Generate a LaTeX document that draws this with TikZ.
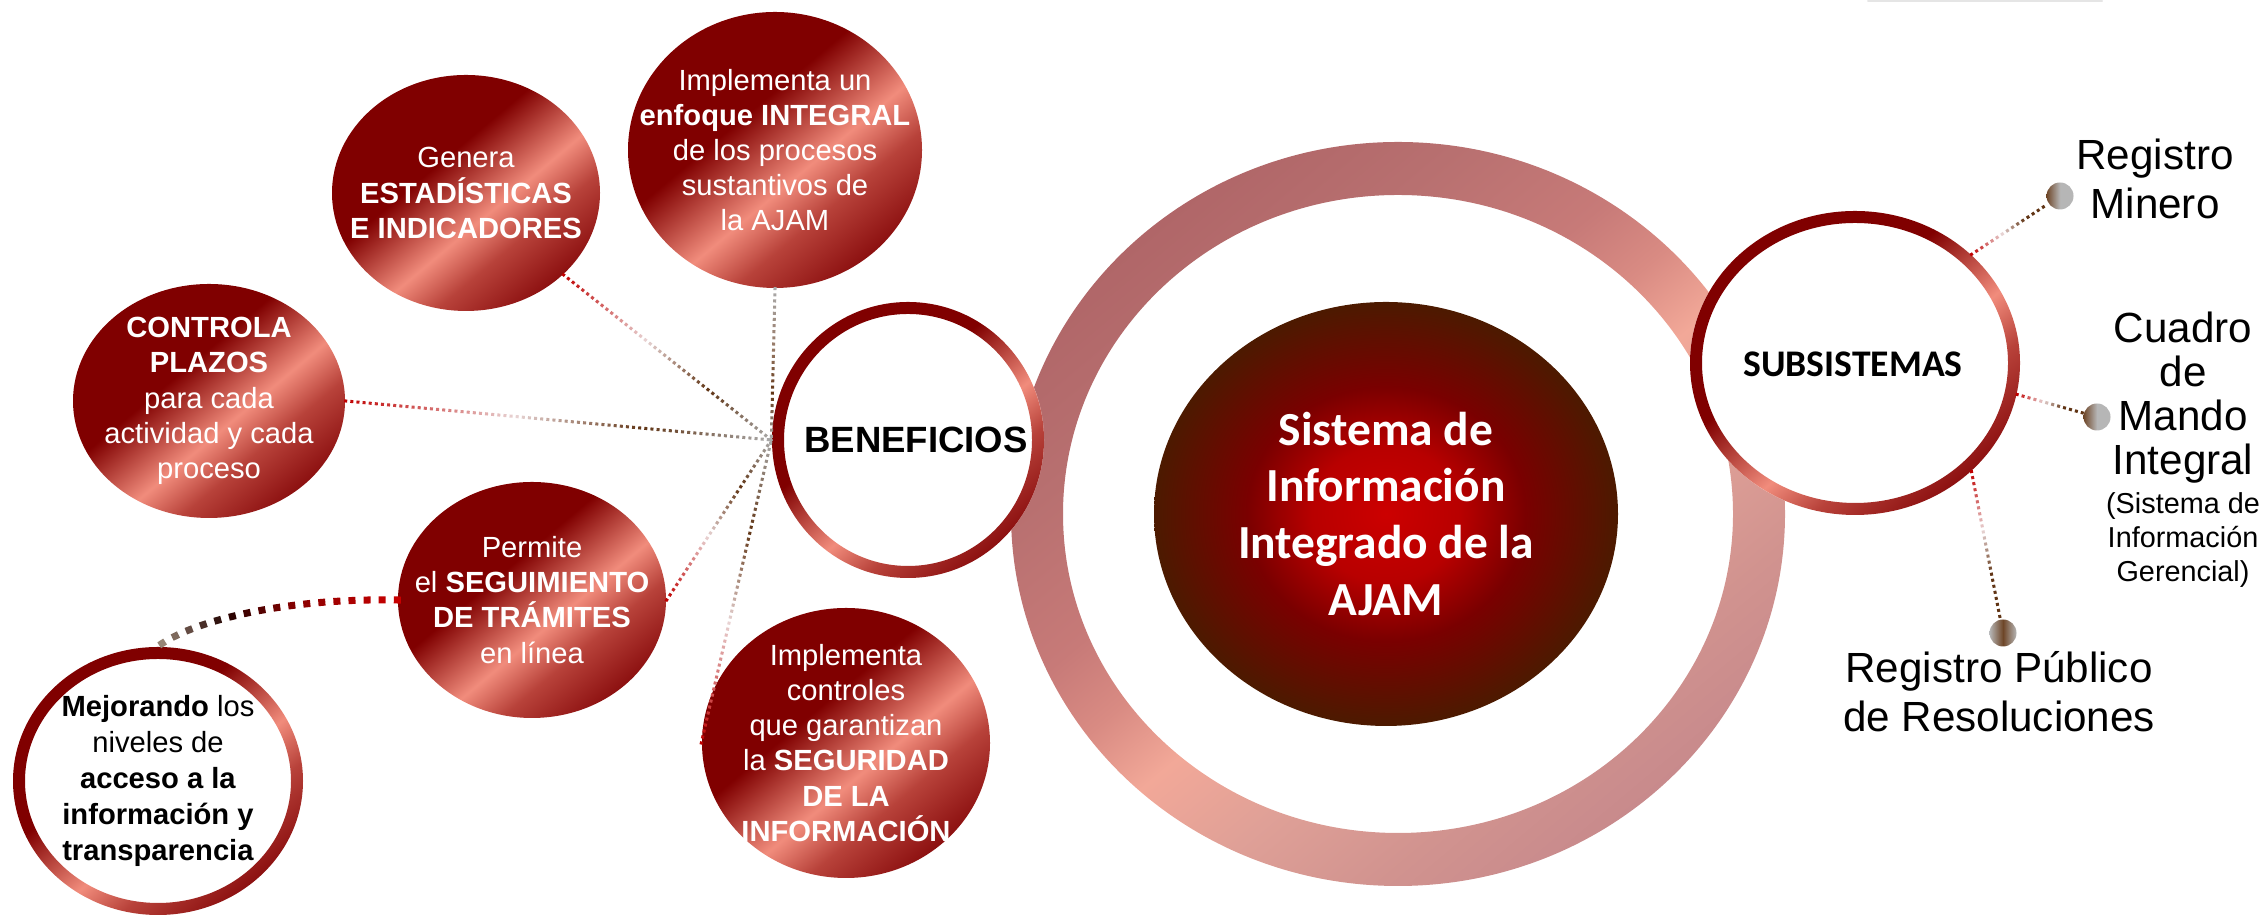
\documentclass[tikz,border=0pt]{standalone}
\usepackage{fontspec}
\setmainfont{Liberation Sans}
\newfontfamily\calibri{Carlito}
\usetikzlibrary{calc, positioning, shapes.geometric, decorations.markings}

% bubbles and rings
\definecolor{sheendark}{RGB}{128,0,0}
\definecolor{sheenlight}{RGB}{241,140,124}
\definecolor{sheenmid}{RGB}{184,66,58}
\definecolor{sheenedge}{RGB}{140,16,16}
% big halo round the core
\definecolor{haloA}{RGB}{176,102,104}
\definecolor{haloB}{RGB}{184,112,112}
\definecolor{haloC}{RGB}{199,122,120}
\definecolor{haloD}{RGB}{217,139,131}
\definecolor{haloE}{RGB}{242,168,152}
\definecolor{haloF}{RGB}{223,160,151}
\definecolor{haloG}{RGB}{209,147,143}
\definecolor{haloH}{RGB}{200,138,140}
% core
\definecolor{coreA}{RGB}{204,0,0}
\definecolor{coreAB}{RGB}{184,0,0}
\definecolor{coreB}{RGB}{122,0,0}
\definecolor{coreC}{RGB}{76,26,0}
% links
\definecolor{linkred}{RGB}{192,0,0}
\definecolor{linklight}{RGB}{232,212,212}
\definecolor{linkbrown}{RGB}{96,52,20}
\definecolor{linkgrey}{RGB}{170,170,170}
\definecolor{linktaupe}{RGB}{150,120,100}
\definecolor{trailred}{RGB}{200,0,0}
\definecolor{trailmaroon}{RGB}{139,0,0}
\definecolor{traildark}{RGB}{34,2,0}
\definecolor{trailgrey}{RGB}{160,144,128}
\definecolor{dotgrey}{RGB}{182,182,182}
\definecolor{dotbrown}{RGB}{110,70,40}

\pgfdeclarehorizontalshading{redsheen}{100bp}{color(0bp)=(sheendark); color(42bp)=(sheendark); color(56bp)=(sheenlight); color(64bp)=(sheenmid); color(75bp)=(sheenedge); color(100bp)=(sheenedge)}
\pgfdeclarehorizontalshading{halosheen}{100bp}{color(0bp)=(haloA); color(25bp)=(haloA); color(34bp)=(haloB); color(43bp)=(haloC); color(48bp)=(haloD); color(53bp)=(haloE); color(60bp)=(haloF); color(68bp)=(haloG); color(75bp)=(haloH); color(100bp)=(haloH)}
\pgfdeclareradialshading{coreglow}{\pgfpoint{0bp}{0bp}}{color(0bp)=(coreA); color(8bp)=(coreAB); color(15bp)=(coreB); color(25bp)=(coreC); color(50bp)=(coreC)}

% colour at fraction #1 of a link, stops at 0, .4, .7 and 1
\newcommand{\fadecolor}[5]{%
  \ifdim #1pt<0.4pt
    \pgfmathsetmacro{\fadep}{min(100,max(0,#1*250))}\colorlet{fadecol}{#3!\fadep!#2}%
  \else\ifdim #1pt<0.7pt
    \pgfmathsetmacro{\fadep}{min(100,max(0,(#1-0.4)*333.3))}\colorlet{fadecol}{#4!\fadep!#3}%
  \else
    \pgfmathsetmacro{\fadep}{min(100,max(0,(#1-0.7)*333.3))}\colorlet{fadecol}{#5!\fadep!#4}%
  \fi\fi}

% gradient ring round a white node
\newcommand{\ringround}[3]{%
  \shade[shading=redsheen, shading angle=-50, even odd rule]
    (#1.center) ellipse [x radius=#2, y radius=#3]
    (#1.center) ellipse [x radius=#2-12, y radius=#3-12];}

\begin{document}
\begin{tikzpicture}[x=0.1mm, y=0.1mm,
    bubble/.style={ellipse, inner sep=0pt, shading=redsheen, shading angle=-50},
    hollow/.style={ellipse, inner sep=0pt, fill=white},
    bubtext/.style={inner sep=0pt, text=white, align=center, font=\fontsize{8.3}{10}\selectfont},
    sidetext/.style={inner sep=0pt, align=center, font=\fontsize{12}{14}\selectfont},
    endpoint/.style={circle, inner sep=0pt, minimum size=2.7mm},
    fadelink/.style n args={4}{decorate, decoration={markings,
        mark=between positions 0 and 1 step 1.75pt with {
          \pgfmathsetmacro{\fpos}{\pgfkeysvalueof{/pgf/decoration/mark info/distance from start}/\pgfdecoratedpathlength}
          \fadecolor{\fpos}{#1}{#2}{#3}{#4}
          \fill[fadecol] (-0.43pt,-0.43pt) rectangle (0.43pt,0.43pt);}}},
    trail/.style={decorate, decoration={markings,
        mark=between positions 0 and 1 step 4.3pt with {
          \pgfmathsetmacro{\fpos}{\pgfkeysvalueof{/pgf/decoration/mark info/distance from start}/\pgfdecoratedpathlength}
          \fadecolor{\fpos}{trailred}{trailmaroon}{traildark}{trailgrey}
          \fill[fadecol] (-1pt,-1pt) rectangle (1pt,1pt);}}}]
  \useasboundingbox (0,0) rectangle (2264,921);

  % shadow of a box cut off at the top
  \draw[black!10, line width=0.6pt, line cap=round] (1868,920) -- (2102,920);

  % halo and core
  \coordinate (halo) at (1398,407);
  \shade[shading=halosheen, shading angle=-50, even odd rule]
    (halo) ellipse [x radius=387, y radius=372]
    (halo) ellipse [x radius=335, y radius=319];
  \node[ellipse, inner sep=0pt, minimum width=46.4mm, minimum height=42.4mm, shading=coreglow] (core) at (1386,407) {};
  \node[inner sep=0pt, text=white, align=center, font=\calibri\bfseries\fontsize{13.5}{16.2}\selectfont] (core-t) at (core) {Sistema de\\Información\\Integrado de la\\AJAM};

  % hubs
  \node[hollow, minimum width=27.2mm, minimum height=27.6mm] (ben) at (908,481) {};
  \ringround{ben}{136}{138}
  \node[inner sep=0pt, font=\bfseries\fontsize{10.4}{12}\selectfont] (ben-t) at (916,481) {BENEFICIOS};

  \node[hollow, minimum width=33mm, minimum height=30.4mm] (sub) at (1855,558) {};
  \ringround{sub}{165}{152}
  \node[inner sep=0pt, font=\calibri\bfseries\fontsize{10.7}{12}\selectfont] (sub-t) at (1853,557) {SUBSISTEMAS};

  % benefits
  \node[bubble, minimum width=26.8mm, minimum height=23.6mm] (genera) at (466,728) {};
  \node[bubtext] (genera-t) at (genera) {Genera\\\textbf{ESTADÍSTICAS}\\\textbf{E INDICADORES}};

  \node[bubble, minimum width=29.4mm, minimum height=27.6mm] (integral) at (775,771) {};
  \node[bubtext] (integral-t) at (integral) {Implementa un\\\textbf{enfoque INTEGRAL}\\de los procesos\\sustantivos de\\la AJAM};

  \node[bubble, minimum width=27.2mm, minimum height=23.4mm] (plazos) at (209,520) {};
  \node[bubtext] (plazos-t) at (plazos) {\textbf{CONTROLA}\\\textbf{PLAZOS}\\para cada\\actividad y cada\\proceso};

  \node[bubble, minimum width=26.8mm, minimum height=23.6mm] (tramites) at (532,321) {};
  \node[bubtext] (tramites-t) at (tramites) {Permite\\el \textbf{SEGUIMIENTO}\\\textbf{DE TRÁMITES}\\en línea};

  \node[bubble, minimum width=28.8mm, minimum height=27mm] (seguridad) at (846,178) {};
  \node[bubtext] (seguridad-t) at (seguridad) {Implementa\\controles\\que garantizan\\la \textbf{SEGURIDAD}\\\textbf{DE LA}\\\textbf{INFORMACIÓN}};

  \node[hollow, minimum width=29mm, minimum height=26.8mm] (mejora) at (158,140) {};
  \ringround{mejora}{145}{134}
  \node[bubtext, text=black, font=\fontsize{8.3}{10.2}\selectfont] (mejora-t) at (mejora) {\textbf{Mejorando} los\\niveles de\\\textbf{acceso a la}\\\textbf{información y}\\\textbf{transparencia}};

  % links to BENEFICIOS
  \path[fadelink={linkred}{linklight}{linkbrown}{linkgrey}] (genera.-40) -- (ben.west);
  \path[fadelink={linkgrey}{linktaupe}{linkbrown}{linkgrey}] (integral.south) -- (ben.west);
  \path[fadelink={linkred}{linklight}{linkbrown}{linkgrey}] (plazos.east) -- (ben.west);
  \path[fadelink={linkred}{linklight}{linkbrown}{linkgrey}] (tramites.east) -- (ben.west);
  \path[fadelink={linkred}{linklight}{linkbrown}{linkgrey}] (seguridad.west) -- (ben.west);
  \path[trail] (tramites.west) .. controls +(-108,2) and +(37,27) .. (mejora.north);

  % subsystems
  \node[endpoint, left color=dotbrown, right color=dotgrey, middle color=dotgrey] (minero-dot) at (2060,725) {};
  \node[endpoint, left color=dotbrown, right color=dotgrey, middle color=dotgrey] (cuadro-dot) at (2097,504) {};
  \node[endpoint, left color=dotgrey, right color=dotgrey, middle color=dotbrown] (rpr-dot) at (2003,288) {};
  \path[fadelink={linkred}{linklight}{linkbrown}{linkbrown}] (sub.43) -- (minero-dot);
  \path[fadelink={linkred}{linklight}{linkbrown}{linkbrown}] (sub.-11) -- (cuadro-dot);
  \path[fadelink={linkred}{linklight}{linkbrown}{linkbrown}] (sub.-43) -- (rpr-dot);

  \node[sidetext] (minero) at (2155,742) {Registro\\Minero};
  \node[sidetext, font=\fontsize{12}{12.5}\selectfont] (cuadro) at (2183,523) {Cuadro\\de\\Mando\\Integral};
  \node[inner sep=0pt, align=center, font=\fontsize{8.2}{9.7}\selectfont, below=0.75mm of cuadro] (gerencial) {(Sistema de\\Información\\Gerencial)};
  \node[sidetext] (rpr) at (1999,229) {Registro Público\\de Resoluciones};
\end{tikzpicture}
\end{document}
